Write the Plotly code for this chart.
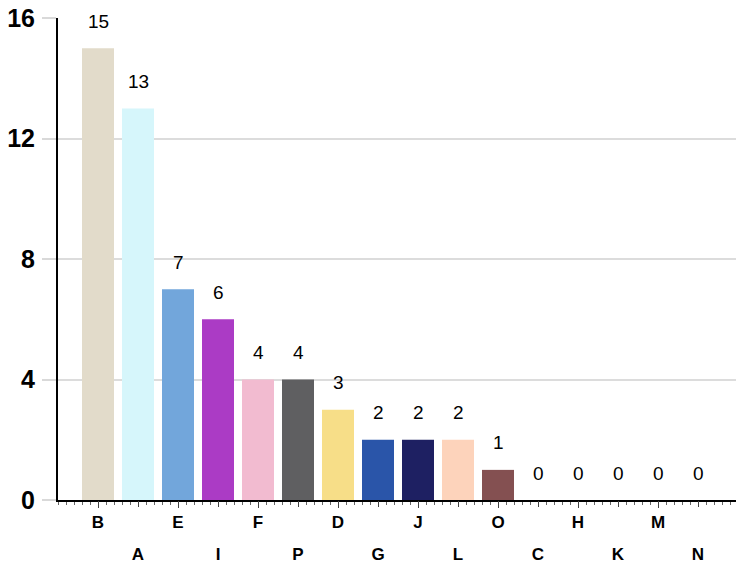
import plotly.graph_objects as go

categories = ["B", "A", "E", "I", "F", "P", "D", "G", "J", "L", "O", "C", "H", "K", "M", "N"]
values = [15, 13, 7, 6, 4, 4, 3, 2, 2, 2, 1, 0, 0, 0, 0, 0]
colors = ["#E2DBCA", "#D6F6FB", "#72A6DB", "#AB3BC5", "#F2BBD0", "#5F5F61", "#F7DE88",
          "#2A55A9", "#1E2062", "#FDD3BB", "#845051", "#999999", "#999999", "#999999",
          "#999999", "#999999"]
y_ticks = [0, 4, 8, 12, 16]

xpos = list(range(len(categories)))
FONT = "Liberation Sans, Arial, sans-serif"

fig = go.Figure()
fig.add_trace(go.Bar(x=xpos, y=values, marker=dict(color=colors, line=dict(width=0)),
                     width=0.8, showlegend=False, hoverinfo="x+y"))
# invisible trace on overlay axis for odd labels
fig.add_trace(go.Scatter(x=xpos, y=values, xaxis="x2", mode="markers",
                         marker=dict(opacity=0), showlegend=False, hoverinfo="skip"))

for i, v in enumerate(values):
    fig.add_annotation(x=xpos[i], y=v, text=str(v), showarrow=False, yshift=27,
                       yanchor="middle", font=dict(family=FONT, size=19, color="#000"))

even_vals = [i for i in xpos if i % 2 == 0]
odd_vals = [i for i in xpos if i % 2 == 1]

fig.update_layout(
    width=736, height=566,
    margin=dict(l=58, r=0, t=18, b=66),
    plot_bgcolor="white", paper_bgcolor="white",
    bargap=0.2,
    xaxis=dict(range=[-1, 15.95], tickmode="array", tickvals=even_vals,
               ticktext=[categories[i] for i in even_vals], automargin=False,
               ticks="outside", ticklen=6, tickwidth=1, tickcolor="#444",
               minor=dict(dtick=0.2, tick0=0, ticks="outside", ticklen=3, tickwidth=1, tickcolor="#666"),
               showline=True, linecolor="#000", linewidth=2, showgrid=False, zeroline=False,
               tickfont=dict(family=FONT, size=17, color="#000", weight="bold")),
    xaxis2=dict(range=[-1, 15.95], overlaying="x", side="bottom", anchor="y",
                tickmode="array", tickvals=odd_vals + [i for i in even_vals], automargin=False,
                ticktext=[categories[i] for i in odd_vals] + ["" for _ in even_vals],
                ticks="outside", ticklen=6, tickwidth=1, tickcolor="#444",
                ticklabelstandoff=33,
                showline=False, showgrid=False, zeroline=False,
                tickfont=dict(family=FONT, size=17, color="#000", weight="bold")),
    yaxis=dict(range=[0, 16], tickmode="array", tickvals=y_ticks, automargin=False,
               ticks="outside", ticklen=14, tickwidth=2, tickcolor="#d9d9d9",
               showgrid=True, gridcolor="#dcdcdc", gridwidth=2,
               showline=True, linecolor="#000", linewidth=2, zeroline=False,
               ticklabelstandoff=2,
               tickfont=dict(family=FONT, size=25, color="#000", weight="bold")),
)

fig.write_html("out.html", config={"displayModeBar": False},
               post_script="document.body.style.margin='0';")
